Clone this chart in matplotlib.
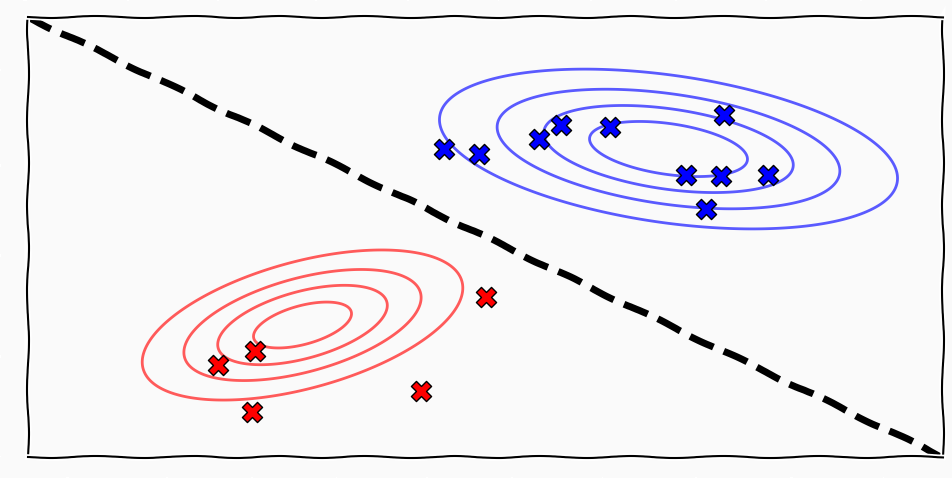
import numpy as np
import matplotlib
matplotlib.use("Agg")
import matplotlib.pyplot as plt

# class means and covariances
blue_mean = [7.0, 3.5]
blue_cov = [[0.745, -0.099], [-0.099, 0.098]]
red_mean = [3.0, 1.5]
red_cov = [[0.287, 0.069], [0.069, 0.068]]

# contour radii (Mahalanobis distance)
blue_levels = [1.0, 1.58, 2.17, 2.9]
red_levels = [1.0, 1.73, 2.42, 3.27]

# sample points
blue_x = [4.55, 4.93, 5.59, 5.82, 6.36, 7.61, 7.19, 7.57, 8.09, 7.41]
blue_y = [3.50, 3.44, 3.61, 3.77, 3.75, 3.89, 3.21, 3.19, 3.21, 2.82]
red_x = [2.48, 2.08, 2.45, 4.30, 5.01]
red_y = [1.21, 1.04, 0.51, 0.75, 1.82]

# decision boundary
line_x = [0, 10]
line_y = [5, 0]


def mahalanobis_grid(mean, cov, X, Y):
    inv = np.linalg.inv(np.array(cov))
    dx = X - mean[0]
    dy = Y - mean[1]
    d2 = inv[0, 0] * dx * dx + 2 * inv[0, 1] * dx * dy + inv[1, 1] * dy * dy
    return np.sqrt(d2)


with plt.xkcd():
    fig = plt.figure(figsize=(9.53, 4.78), dpi=100, facecolor="#fafafa")
    ax = fig.add_axes([0.0294, 0.0439, 0.9601, 0.9205])
    ax.set_facecolor("#fafafa")

    gx = np.linspace(0, 10, 500)
    gy = np.linspace(0, 5, 300)
    X, Y = np.meshgrid(gx, gy)

    cb = ax.contour(X, Y, mahalanobis_grid(blue_mean, blue_cov, X, Y),
                    levels=blue_levels, colors="#5a5aff", linewidths=2)
    cr = ax.contour(X, Y, mahalanobis_grid(red_mean, red_cov, X, Y),
                    levels=red_levels, colors="#ff5a5a", linewidths=2)
    for c in (cb, cr):
        c.set_sketch_params(None)
        c.set_path_effects([])

    ax.plot(line_x, line_y, "--", color="black", lw=5)

    ax.scatter(blue_x, blue_y, marker="X", s=210, c="blue",
               edgecolors="black", linewidths=1, zorder=5)
    ax.scatter(red_x, red_y, marker="X", s=210, c="red",
               edgecolors="black", linewidths=1, zorder=5)

    ax.set_xlim(0, 10)
    ax.set_ylim(0, 5)
    ax.set_xticks([])
    ax.set_yticks([])

    fig.savefig("out.png", dpi=100, facecolor=fig.get_facecolor())
